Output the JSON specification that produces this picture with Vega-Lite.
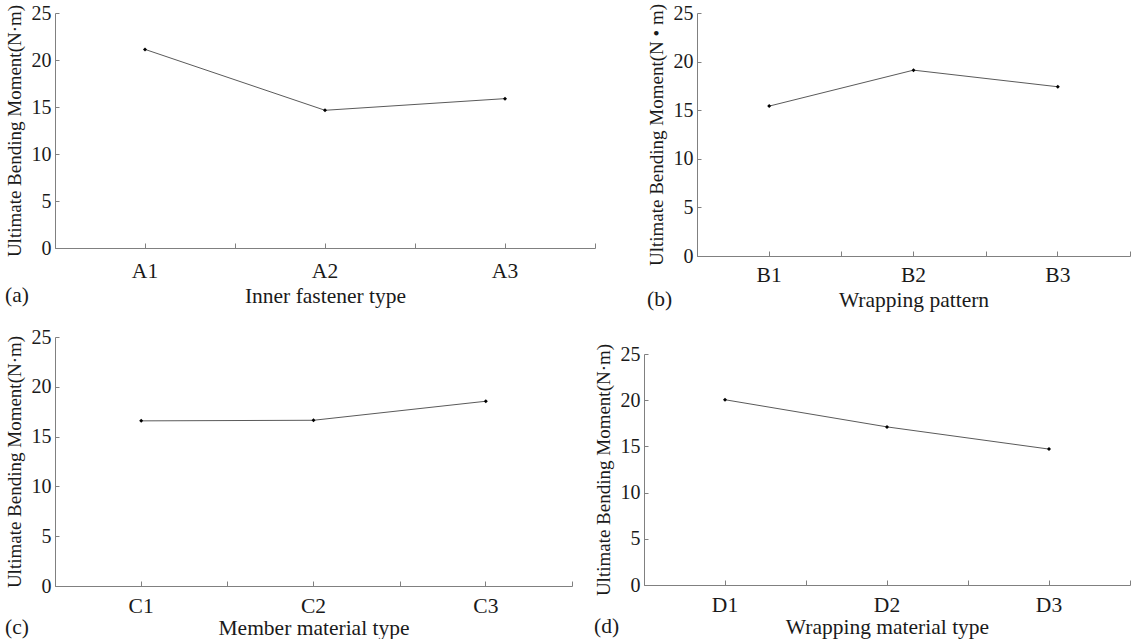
{
  "$schema": "https://vega.github.io/schema/vega-lite/v6.json",
  "background": "white",
  "padding": {"left": 4, "top": 3, "right": 0, "bottom": 0},
  "config": {
    "font": "Liberation Serif",
    "view": {"stroke": null},
    "axis": {"domainColor": "#808080", "tickColor": "#808080", "labelColor": "#1a1a1a", "titleColor": "#1a1a1a", "labelFont": "Liberation Serif", "titleFont": "Liberation Serif", "titleFontWeight": "normal", "grid": false},
    "title": {"font": "Liberation Serif", "fontSize": 21.5, "fontWeight": "normal", "color": "#1a1a1a"}
  },
  "datasets": {
    "a": [{"level": "A1", "moment": 21.13}, {"level": "A2", "moment": 14.65}, {"level": "A3", "moment": 15.89}],
    "b": [{"level": "B1", "moment": 15.42}, {"level": "B2", "moment": 19.12}, {"level": "B3", "moment": 17.41}],
    "c": [{"level": "C1", "moment": 16.58}, {"level": "C2", "moment": 16.64}, {"level": "C3", "moment": 18.55}],
    "d": [{"level": "D1", "moment": 20.05}, {"level": "D2", "moment": 17.11}, {"level": "D3", "moment": 14.71}],
    "empty": []
  },
  "spacing": 16,
  "vconcat": [
    {
      "spacing": 50,
      "hconcat": [
        {
          "width": 540, "height": 235,
          "data": {"name": "a"},
          "title": {"text": "(a)", "orient": "bottom", "anchor": "start", "frame": "bounds", "offset": -22},
          "layer": [
            {"mark": {"type": "line", "color": "#5a5a5a", "strokeWidth": 1},
             "encoding": {
               "x": {"field": "level", "type": "ordinal", "scale": {"type": "band", "paddingInner": 0, "paddingOuter": 0},
                     "axis": {"orient": "bottom", "title": "Inner fastener type", "titleFontSize": 21.5, "labelFontSize": 21.5, "labelAngle": 0, "tickSize": -5, "labelPadding": 17, "titlePadding": 4}},
               "y": {"field": "moment", "type": "quantitative", "scale": {"domain": [0, 25], "nice": false},
                     "axis": {"title": "Ultimate Bending Moment(N·m)", "titleFontSize": 19, "labelFontSize": 20, "values": [0, 5, 10, 15, 20, 25], "tickSize": -4, "labelPadding": 8, "titlePadding": 7}}}},
            {"mark": {"type": "point", "filled": true, "color": "#000", "size": 16, "opacity": 1, "shape": "diamond"},
             "encoding": {
               "x": {"field": "level", "type": "ordinal", "axis": {"orient": "bottom", "tickBand": "extent", "labels": false, "domain": false, "title": null, "tickSize": -5}},
               "y": {"field": "moment", "type": "quantitative"}}}
          ],
          "resolve": {"axis": {"x": "independent"}}
        },
        {
          "width": 433, "height": 243,
          "data": {"name": "b"},
          "title": {"text": "(b)", "orient": "bottom", "anchor": "start", "frame": "bounds", "offset": -22},
          "layer": [
            {"mark": {"type": "line", "color": "#5a5a5a", "strokeWidth": 1},
             "encoding": {
               "x": {"field": "level", "type": "ordinal", "scale": {"type": "band", "paddingInner": 0, "paddingOuter": 0},
                     "axis": {"orient": "bottom", "title": "Wrapping pattern", "titleFontSize": 21.5, "labelFontSize": 21.5, "labelAngle": 0, "tickSize": -5, "labelPadding": 13, "titlePadding": 4}},
               "y": {"field": "moment", "type": "quantitative", "scale": {"domain": [0, 25], "nice": false},
                     "axis": {"title": "Ultimate Bending Moment(N • m)", "titleFontSize": 19, "labelFontSize": 20, "values": [0, 5, 10, 15, 20, 25], "tickSize": -4, "labelPadding": 8, "titlePadding": 7}}}},
            {"mark": {"type": "point", "filled": true, "color": "#000", "size": 16, "opacity": 1, "shape": "diamond"},
             "encoding": {
               "x": {"field": "level", "type": "ordinal", "axis": {"orient": "bottom", "tickBand": "extent", "labels": false, "domain": false, "title": null, "tickSize": -5}},
               "y": {"field": "moment", "type": "quantitative"}}}
          ],
          "resolve": {"axis": {"x": "independent"}}
        }
      ]
    },
    {
      "spacing": 20,
      "hconcat": [
        {
          "width": 517, "height": 249,
          "data": {"name": "c"},
          "title": {"text": "(c)", "orient": "bottom", "anchor": "start", "frame": "bounds", "offset": -22},
          "layer": [
            {"mark": {"type": "line", "color": "#5a5a5a", "strokeWidth": 1},
             "encoding": {
               "x": {"field": "level", "type": "ordinal", "scale": {"type": "band", "paddingInner": 0, "paddingOuter": 0},
                     "axis": {"orient": "bottom", "title": "Member material type", "titleFontSize": 21.5, "labelFontSize": 21.5, "labelAngle": 0, "tickSize": -5, "labelPadding": 14, "titlePadding": 1}},
               "y": {"field": "moment", "type": "quantitative", "scale": {"domain": [0, 25], "nice": false},
                     "axis": {"title": "Ultimate Bending Moment(N·m)", "titleFontSize": 19, "labelFontSize": 20, "values": [0, 5, 10, 15, 20, 25], "tickSize": -4, "labelPadding": 8, "titlePadding": 7}}}},
            {"mark": {"type": "point", "filled": true, "color": "#000", "size": 16, "opacity": 1, "shape": "diamond"},
             "encoding": {
               "x": {"field": "level", "type": "ordinal", "axis": {"orient": "bottom", "tickBand": "extent", "labels": false, "domain": false, "title": null, "tickSize": -5}},
               "y": {"field": "moment", "type": "quantitative"}}}
          ],
          "resolve": {"axis": {"x": "independent"}}
        },
        {
          "spacing": 5,
          "vconcat": [
            {"width": 1, "height": 1, "data": {"name": "empty"}, "mark": "point", "encoding": {}},
            {
              "width": 486, "height": 231,
              "data": {"name": "d"},
              "title": {"text": "(d)", "orient": "bottom", "anchor": "start", "frame": "bounds", "offset": -22},
              "layer": [
                {"mark": {"type": "line", "color": "#5a5a5a", "strokeWidth": 1},
                 "encoding": {
                   "x": {"field": "level", "type": "ordinal", "scale": {"type": "band", "paddingInner": 0, "paddingOuter": 0},
                         "axis": {"orient": "bottom", "title": "Wrapping material type", "titleFontSize": 21.5, "labelFontSize": 21.5, "labelAngle": 0, "tickSize": -5, "labelPadding": 14, "titlePadding": 1}},
                   "y": {"field": "moment", "type": "quantitative", "scale": {"domain": [0, 25], "nice": false},
                         "axis": {"title": "Ultimate Bending Moment(N·m)", "titleFontSize": 19, "labelFontSize": 20, "values": [0, 5, 10, 15, 20, 25], "tickSize": -4, "labelPadding": 8, "titlePadding": 7}}}},
                {"mark": {"type": "point", "filled": true, "color": "#000", "size": 16, "opacity": 1, "shape": "diamond"},
                 "encoding": {
                   "x": {"field": "level", "type": "ordinal", "axis": {"orient": "bottom", "tickBand": "extent", "labels": false, "domain": false, "title": null, "tickSize": -5}},
                   "y": {"field": "moment", "type": "quantitative"}}}
              ],
              "resolve": {"axis": {"x": "independent"}}
            }
          ]
        }
      ]
    }
  ]
}
